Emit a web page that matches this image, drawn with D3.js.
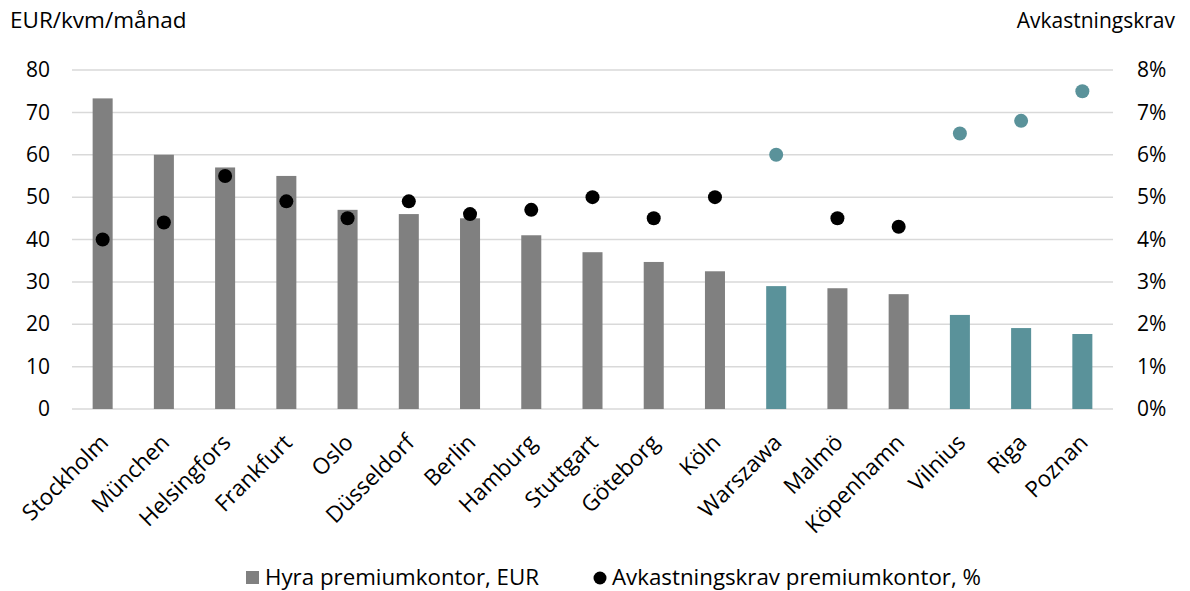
<!DOCTYPE html>
<html>
<head>
<meta charset="utf-8">
<script src="https://cdn.jsdelivr.net/npm/d3@7"></script>
<style>
  html, body { margin: 0; padding: 0; background: #fff; }
  svg text { font-family: "Open Sans", "Noto Sans", sans-serif; fill: #000; }
</style>
</head>
<body>
<svg id="chart" width="1190" height="591"></svg>
<script>
// Premium office rent (EUR/sqm/month) and prime yield per city
const cities = ["Stockholm", "München", "Helsingfors", "Frankfurt", "Oslo", "Düsseldorf", "Berlin",
  "Hamburg", "Stuttgart", "Göteborg", "Köln", "Warszawa", "Malmö", "Köpenhamn", "Vilnius", "Riga", "Poznan"];
const rent = [73.3, 60, 57, 55, 47, 46, 45, 41, 37, 34.7, 32.5, 29, 28.5, 27.1, 22.2, 19.1, 17.7];
const yieldPct = [4.0, 4.4, 5.5, 4.9, 4.5, 4.9, 4.6, 4.7, 5.0, 4.5, 5.0, 6.0, 4.5, 4.3, 6.5, 6.8, 7.5];
// Cities outside the Nordic/German core markets are highlighted
const highlighted = ["Warszawa", "Vilnius", "Riga", "Poznan"];
const leftTicks = [0, 10, 20, 30, 40, 50, 60, 70, 80];
const rightTicks = [0, 1, 2, 3, 4, 5, 6, 7, 8];

const GREY = "#808080", TEAL = "#5a929a", GRID = "#d9d9d9";

const svg = d3.select("#chart");
const m = { left: 72, right: 1113, top: 70, bottom: 409 };

const x = d3.scaleBand().domain(cities).range([m.left, m.right]).paddingInner(0.673).paddingOuter(0.337);
const yL = d3.scaleLinear().domain([0, 80]).range([m.bottom, m.top]);
const yR = d3.scaleLinear().domain([0, 8]).range([m.bottom, m.top]);

// Gridlines
svg.append("g").selectAll("line").data(leftTicks).join("line")
  .attr("x1", m.left).attr("x2", m.right)
  .attr("y1", d => yL(d)).attr("y2", d => yL(d))
  .attr("stroke", GRID).attr("stroke-width", 1.5);

// Left axis labels
const axL = svg.append("g").attr("transform", `translate(${m.left - 22},0)`)
  .call(d3.axisLeft(yL).tickValues(leftTicks).tickSize(0).tickPadding(0));
axL.select(".domain").remove();
axL.selectAll("text").attr("font-size", 21).attr("font-family", "Open Sans, sans-serif").attr("fill", "#000");

// Right axis labels
const axR = svg.append("g").attr("transform", `translate(${m.right + 24},0)`)
  .call(d3.axisRight(yR).tickValues(rightTicks).tickFormat(d => d + "%").tickSize(0).tickPadding(0));
axR.select(".domain").remove();
axR.selectAll("text").attr("font-size", 21).attr("font-family", "Open Sans, sans-serif").attr("fill", "#000");

// Bars
svg.append("g").selectAll("rect").data(cities).join("rect")
  .attr("x", d => x(d)).attr("width", x.bandwidth())
  .attr("y", (d, i) => yL(rent[i])).attr("height", (d, i) => yL(0) - yL(rent[i]))
  .attr("fill", d => highlighted.includes(d) ? TEAL : GREY);

// Yield dots
svg.append("g").selectAll("circle").data(cities).join("circle")
  .attr("cx", d => x(d) + x.bandwidth() / 2)
  .attr("cy", (d, i) => yR(yieldPct[i]))
  .attr("r", 7)
  .attr("fill", d => highlighted.includes(d) ? TEAL : "#000");

// Category labels, rotated
svg.append("g").selectAll("text").data(cities).join("text")
  .attr("transform", d => `translate(${x(d) + x.bandwidth() / 2 + 7},${m.bottom + 35}) rotate(-45)`)
  .attr("text-anchor", "end")
  .attr("font-size", 22.5)
  .text(d => d);

// Axis titles
svg.append("text").attr("x", 10).attr("y", 28).attr("font-size", 22.5).text("EUR/kvm/månad");
svg.append("text").attr("x", 1175).attr("y", 28).attr("font-size", 21).attr("text-anchor", "end").text("Avkastningskrav");

// Legend
const lg = svg.append("g");
lg.append("rect").attr("x", 246).attr("y", 571).attr("width", 13).attr("height", 13).attr("fill", GREY);
lg.append("text").attr("x", 265).attr("y", 585).attr("font-size", 22.3).text("Hyra premiumkontor, EUR");
lg.append("circle").attr("cx", 600).attr("cy", 578).attr("r", 6.5).attr("fill", "#000");
lg.append("text").attr("x", 612).attr("y", 585).attr("font-size", 22.3).text("Avkastningskrav premiumkontor, %");
</script>
</body>
</html>
